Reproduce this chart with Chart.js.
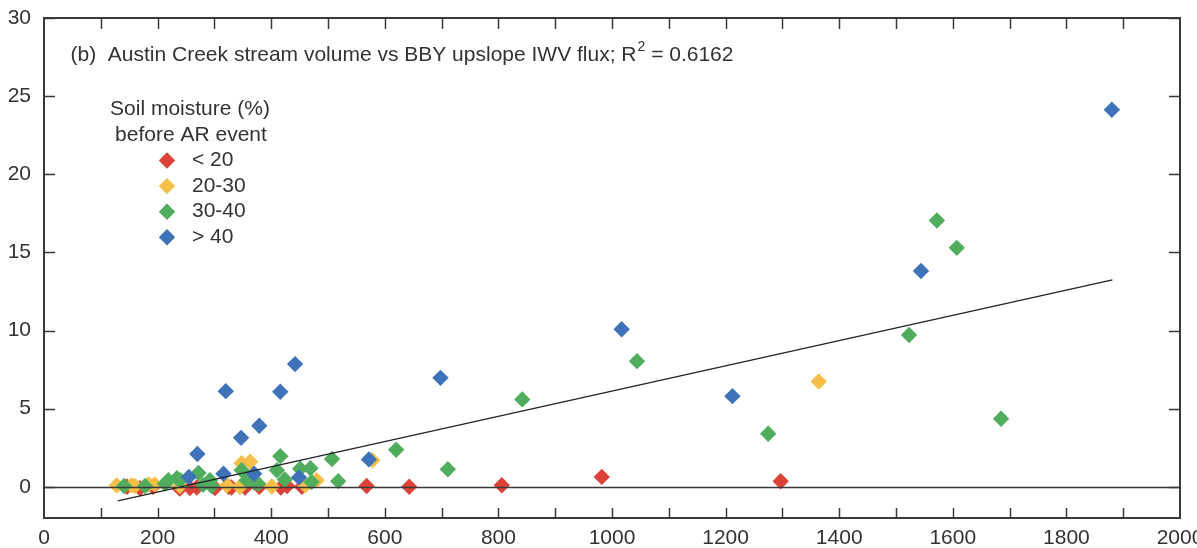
<!DOCTYPE html>
<html>
<head>
<meta charset="utf-8">
<script src="https://cdn.jsdelivr.net/npm/chart.js@4.4.0/dist/chart.umd.min.js"></script>
<style>
  html, body { margin: 0; padding: 0; background: #fff; }
</style>
</head>
<body>
<canvas id="scatterChart" width="1197" height="548"></canvas>
<script>
// soil moisture classes and their colours
const categories = ['< 20', '20-30', '30-40', '> 40'];
const colors = ['#dc4238', '#f5bf48', '#50ad5d', '#3e73b9'];

// [BBY upslope IWV flux, Austin Creek stream volume]
const below20 = [[146, 0.0], [169, -0.1], [192, 0.0], [239, -0.12], [257, -0.08], [269, -0.05], [301, -0.08],
  [325, 0.0], [330, -0.05], [354, -0.05], [379, 0.0], [417, -0.05], [428, 0.05], [454, 0.0], [568, 0.05],
  [643, 0.0], [806, 0.1], [982, 0.63], [1297, 0.35]];
const from20to30 = [[128, 0.08], [154, 0.1], [160, 0.05], [184, 0.15], [195, 0.15], [239, 0.05], [322, 0.1],
  [345, 0.0], [348, 1.5], [363, 1.6], [401, 0.02], [460, 0.1], [480, 0.42], [578, 1.7], [1364, 6.74]];
const from30to40 = [[141, 0.05], [178, 0.05], [213, 0.2], [219, 0.42], [234, 0.55], [240, 0.42], [272, 0.88],
  [280, 0.12], [292, 0.42], [295, 0.05], [348, 1.06], [357, 0.42], [369, 0.3], [377, 0.2], [410, 1.06],
  [416, 1.96], [424, 0.46], [451, 1.15], [469, 1.18], [471, 0.3], [507, 1.78], [518, 0.36], [620, 2.37],
  [711, 1.12], [842, 5.59], [1044, 8.04], [1275, 3.39], [1523, 9.71], [1572, 17.04], [1607, 15.29], [1685, 4.35]];
const above40 = [[255, 0.63], [270, 2.1], [316, 0.83], [320, 6.12], [347, 3.13], [370, 0.83], [379, 3.9],
  [416, 6.08], [442, 7.85], [449, 0.6], [572, 1.75], [698, 6.97], [1017, 10.08], [1212, 5.8], [1544, 13.81],
  [1880, 24.13]];
const fitLine = [[130, -0.9], [1881, 13.24]];

const xTicks = [0, 200, 400, 600, 800, 1000, 1200, 1400, 1600, 1800, 2000];
const xMarks = [100, 200, 300, 400, 500, 600, 700, 800, 900, 1000, 1100, 1200, 1300, 1400, 1500, 1600, 1700, 1800, 1900];
const yTicks = [0, 5, 10, 15, 20, 25, 30];

const titleText = '(b)  Austin Creek stream volume vs BBY upslope IWV flux; R';
const titleSup = '2';
const titleTail = ' = 0.6162';
const legendTitle = ['Soil moisture (%)', 'before AR event'];

const FONT = "'Liberation Sans', Arial, sans-serif";
const TEXT = '#333';
const MARK = 8.2;

function toPoints(arr) {
    return arr.map(p => ({ x: p[0], y: p[1] }));
}

const groups = [below20, from20to30, from30to40, above40];

const datasets = groups.map((g, i) => ({
    label: categories[i],
    data: toPoints(g),
    pointStyle: 'rectRot',
    pointRadius: MARK,
    backgroundColor: colors[i],
    borderWidth: 0,
    order: 4 - i
}));

datasets.push({
    type: 'line',
    label: 'fit',
    data: toPoints(fitLine),
    borderColor: '#222',
    borderWidth: 1.2,
    pointRadius: 0,
    fill: false,
    order: 0
});

const frame = {
    id: 'frame',
    afterDatasetsDraw(chart) {
        const { ctx, chartArea: a, scales: { x, y } } = chart;
        ctx.save();
        ctx.strokeStyle = '#3a3a3a';
        ctx.lineWidth = 1.5;

        const y0 = Math.round(y.getPixelForValue(0)) + 0.5;
        ctx.beginPath();
        ctx.moveTo(a.left, y0);
        ctx.lineTo(a.right, y0);
        ctx.stroke();

        ctx.lineWidth = 2;
        ctx.strokeRect(a.left, a.top, a.right - a.left, a.bottom - a.top);

        ctx.lineWidth = 1.5;
        ctx.beginPath();
        xMarks.forEach(v => {
            const px = Math.round(x.getPixelForValue(v)) + 0.5;
            ctx.moveTo(px, a.bottom);
            ctx.lineTo(px, a.bottom - 10);
            ctx.moveTo(px, a.top);
            ctx.lineTo(px, a.top + 11);
        });
        yTicks.forEach(v => {
            const py = Math.round(y.getPixelForValue(v)) + 0.5;
            ctx.moveTo(a.left, py);
            ctx.lineTo(a.left + 11, py);
            ctx.moveTo(a.right, py);
            ctx.lineTo(a.right - 11, py);
        });
        ctx.stroke();
        ctx.restore();
    },
    afterDraw(chart) {
        const ctx = chart.ctx;
        ctx.save();
        ctx.fillStyle = TEXT;
        ctx.textBaseline = 'middle';
        ctx.textAlign = 'left';

        // panel title with R squared
        ctx.font = '21px ' + FONT;
        let tx = 70.5;
        ctx.fillText(titleText, tx, 55);
        tx += ctx.measureText(titleText).width;
        ctx.font = '14px ' + FONT;
        ctx.fillText(titleSup, tx + 1, 47);
        tx += ctx.measureText(titleSup).width + 1;
        ctx.font = '21px ' + FONT;
        ctx.fillText(titleTail, tx, 55);

        // legend
        ctx.textAlign = 'center';
        ctx.fillText(legendTitle[0], 190, 109);
        ctx.fillText(legendTitle[1], 191, 135);
        ctx.textAlign = 'left';
        categories.forEach((c, i) => {
            const cy = 160.5 + i * 25.6;
            const r = MARK;
            ctx.fillStyle = colors[i];
            ctx.beginPath();
            ctx.moveTo(167 - r, cy);
            ctx.lineTo(167, cy - r);
            ctx.lineTo(167 + r, cy);
            ctx.lineTo(167, cy + r);
            ctx.closePath();
            ctx.fill();
            ctx.fillStyle = TEXT;
            ctx.fillText(c, 192, cy);
        });
        ctx.restore();
    }
};

new Chart(document.getElementById('scatterChart').getContext('2d'), {
    type: 'scatter',
    data: { datasets: datasets },
    options: {
        responsive: false,
        animation: false,
        devicePixelRatio: 1,
        events: [],
        layout: { padding: { top: 18, right: 17, bottom: 0, left: 0 } },
        plugins: {
            legend: { display: false },
            tooltip: { enabled: false }
        },
        scales: {
            x: {
                type: 'linear',
                min: 0,
                max: 2000,
                grid: { display: false },
                border: { display: false },
                ticks: {
                    color: TEXT,
                    font: { family: FONT, size: 21 },
                    padding: 0,
                    maxRotation: 0,
                    callback: v => String(v)
                },
                afterBuildTicks: scale => { scale.ticks = xTicks.map(v => ({ value: v })); },
                afterFit: scale => {
                    scale.height = 30;
                    scale.paddingLeft = 0;
                    scale.paddingRight = 0;
                }
            },
            y: {
                type: 'linear',
                min: -2,
                max: 30,
                grid: { display: false },
                border: { display: false },
                ticks: { color: TEXT, font: { family: FONT, size: 21 }, padding: 5 },
                afterBuildTicks: scale => { scale.ticks = yTicks.map(v => ({ value: v })); },
                afterFit: scale => {
                    scale.width = 44;
                    scale.paddingTop = 0;
                    scale.paddingBottom = 0;
                }
            }
        }
    },
    plugins: [frame]
});
</script>
</body>
</html>
